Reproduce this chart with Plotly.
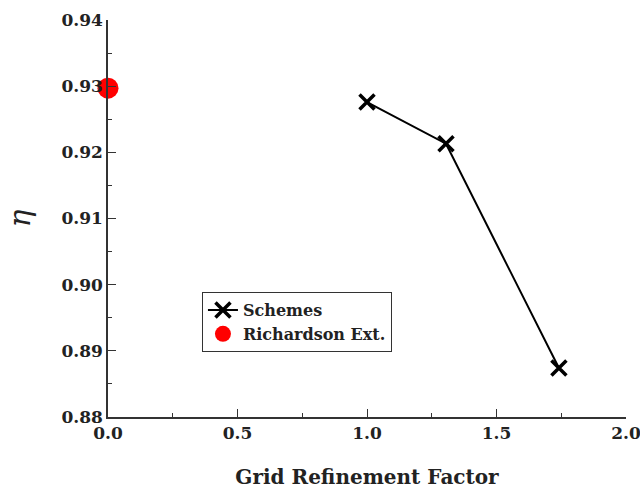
import plotly.graph_objects as go

scheme_x = [1.0, 1.305, 1.741]
scheme_eta = [0.9276, 0.9213, 0.8874]
rich_x = [0.0]
rich_eta = [0.9297]

font_family = "DejaVu Serif"

fig = go.Figure()
fig.add_trace(go.Scatter(
    x=scheme_x, y=scheme_eta, mode="lines+markers", name="Schemes",
    line=dict(color="black", width=2),
    marker=dict(symbol="x-thin", size=15, line=dict(color="black", width=3.5), color="black"),
    cliponaxis=False,
))
fig.add_trace(go.Scatter(
    x=rich_x, y=rich_eta, mode="markers", name="Richardson Ext.",
    marker=dict(symbol="circle", size=21, color="red"),
    cliponaxis=False,
))

axis_common = dict(
    showline=True, linecolor="#333333", linewidth=1.5,
    ticks="inside", ticklen=8, tickwidth=1.2, tickcolor="#333333",
    showgrid=False, zeroline=False, mirror=False, automargin=False,
    ticklabeloverflow="allow",
    tickfont=dict(family=font_family, size=17, color="#222222", weight="bold"),
)

fig.update_xaxes(
    range=[0, 2.0], tick0=0, dtick=0.5, tickformat=".1f",
    minor=dict(ticks="inside", ticklen=4, dtick=0.25, tickcolor="#333333", tickwidth=1.2),
    title=dict(text="<b>Grid Refinement Factor</b>", font=dict(family=font_family, size=20, color="#222222"), standoff=28),
    **axis_common,
)
fig.update_yaxes(
    range=[0.88, 0.94], tick0=0.88, dtick=0.01, tickformat=".2f",
    minor=dict(ticks="inside", ticklen=4, dtick=0.005, tickcolor="#333333", tickwidth=1.2),
    title=dict(text="<i>η</i>", font=dict(family=font_family, size=30, color="#222222"), standoff=22),
    **axis_common,
)

fig.update_layout(
    width=640, height=490,
    margin=dict(l=108, r=14, t=20, b=73),
    plot_bgcolor="white", paper_bgcolor="white",
    showlegend=True,
    legend=dict(
        x=0.181, y=0.315, xanchor="left", yanchor="top",
        bordercolor="#333333", borderwidth=1.2, bgcolor="white",
        font=dict(family=font_family, size=16, color="#222222", weight="bold"),
        itemwidth=30, tracegroupgap=0,
    ),
)

fig.write_html("out.html")
